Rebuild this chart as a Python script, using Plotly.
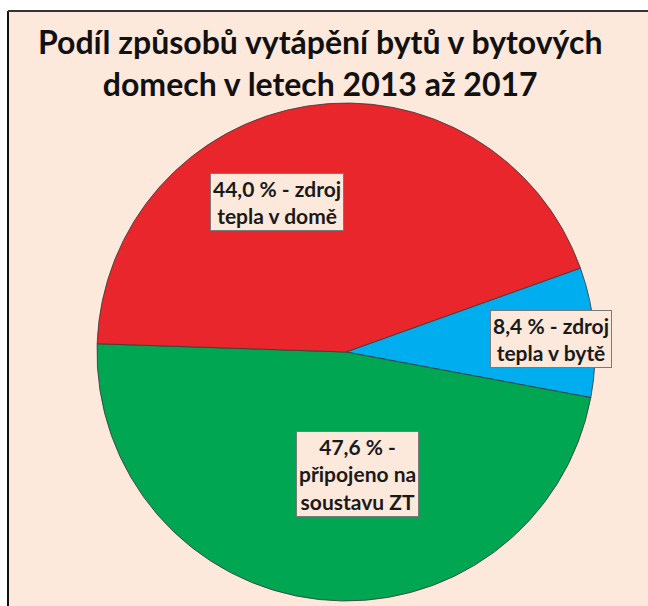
import plotly.graph_objects as go

# Data
categories = ["zdroj tepla v bytě", "připojeno na soustavu ZT", "zdroj tepla v domě"]
values = [8.4, 47.6, 44.0]
colors = ["#00AEEF", "#00A651", "#E8262B"]
label_texts = [
    "8,4 % - zdroj<br>tepla v bytě",
    "47,6 % -<br>připojeno na<br>soustavu ZT",
    "44,0 % - zdroj<br>tepla v domě",
]
title_text = "Podíl způsobů vytápění bytů v bytových<br>domech v letech 2013 až 2017"

W, H = 648, 606
BG = "#FDE9DC"
FONT = "Lato"

cx, cy, r = 346, 352, 249

fig = go.Figure(go.Pie(
    labels=categories,
    values=values,
    sort=False,
    direction="clockwise",
    rotation=70.3,
    marker=dict(colors=colors, line=dict(color="rgba(60,60,60,0.85)", width=1)),
    textinfo="none",
    hoverinfo="label+percent",
    showlegend=False,
    domain=dict(x=[(cx - r) / W, (cx + r) / W], y=[(H - cy - r) / H, (H - cy + r) / H]),
))

label_pos = [(551, 339), (357, 474), (277, 202)]
annotations = []
for txt, (px, py) in zip(label_texts, label_pos):
    annotations.append(dict(
        text="<b>" + txt + "</b>", x=px / W, y=1 - py / H, xref="paper", yref="paper",
        showarrow=False, align="center", bgcolor=BG, bordercolor="#7a7a7a",
        borderwidth=1, borderpad=2, font=dict(family=FONT, size=21, color="#1a1a1a"),
        xanchor="center", yanchor="middle",
    ))

annotations.append(dict(
    text="<b>" + title_text + "</b>", x=320 / W, y=1 - 62 / H, xref="paper", yref="paper",
    showarrow=False, align="center", xanchor="center", yanchor="middle",
    font=dict(family=FONT, size=32, color="#111111"),
))

shapes = [
    dict(type="rect", xref="paper", yref="paper", x0=0, x1=8 / W, y0=0, y1=1,
         fillcolor="white", line=dict(width=0), layer="below"),
    dict(type="rect", xref="paper", yref="paper", x0=0, x1=1, y0=1 - 11 / H, y1=1,
         fillcolor="white", line=dict(width=0), layer="below"),
    dict(type="line", xref="paper", yref="paper", x0=8 / W, x1=8 / W, y0=0, y1=1 - 11 / H,
         line=dict(color="#111111", width=2)),
    dict(type="line", xref="paper", yref="paper", x0=8 / W, x1=1, y0=1 - 11 / H, y1=1 - 11 / H,
         line=dict(color="#333333", width=2)),
]

fig.update_layout(
    width=W, height=H,
    margin=dict(l=0, r=0, t=0, b=0),
    paper_bgcolor=BG, plot_bgcolor=BG,
    annotations=annotations, shapes=shapes,
)

fig.write_html(
    "out.html",
    config={"displayModeBar": False},
    post_script="document.body.style.margin='0';document.body.style.overflow='hidden';",
)
